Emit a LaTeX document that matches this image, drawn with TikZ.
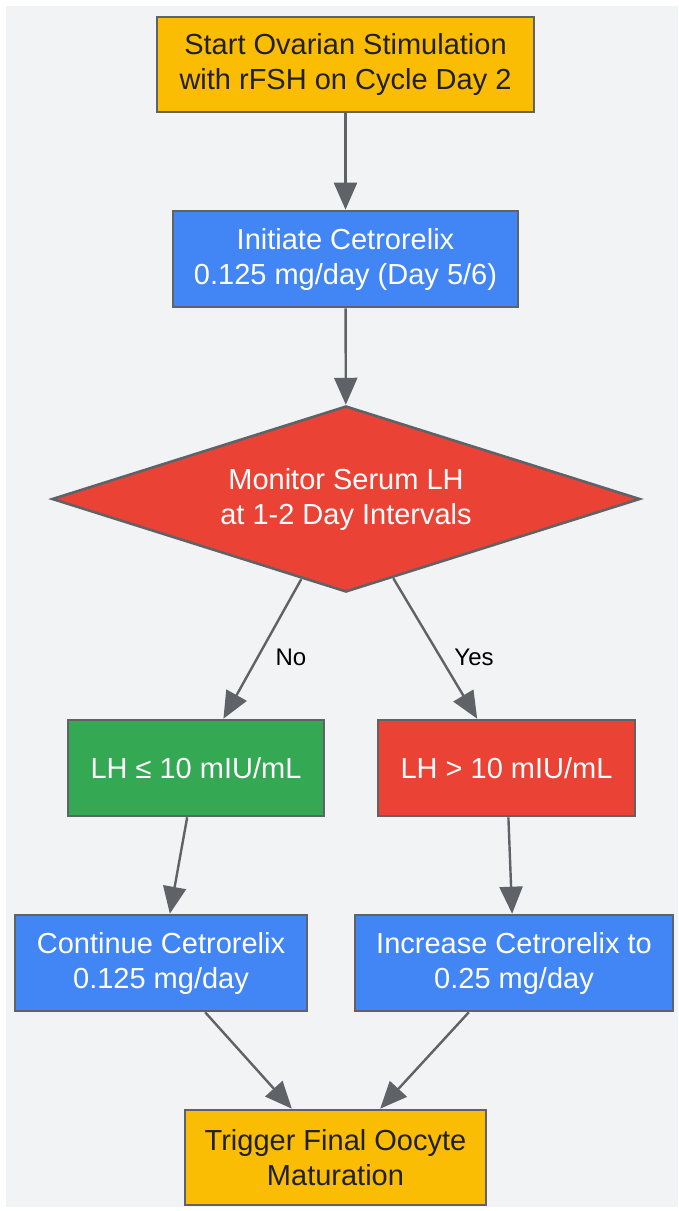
\documentclass[tikz,border=0pt]{standalone}
\usepackage{fontspec}
\setmainfont{Liberation Sans}
\usepackage{tikz}
\usetikzlibrary{shapes.geometric,arrows.meta}

\definecolor{bgGrey}{HTML}{F1F3F5}
\definecolor{edgeGrey}{HTML}{5F6368}
\definecolor{gYellow}{HTML}{FBBC04}
\definecolor{gBlue}{HTML}{4285F4}
\definecolor{gRed}{HTML}{EA4335}
\definecolor{gGreen}{HTML}{34A853}
\definecolor{darkText}{HTML}{202124}

\begin{document}
\begin{tikzpicture}[x=1pt,y=-1pt,
    stepbox/.style={draw=edgeGrey,line width=2.6pt,inner sep=0pt,align=center,
      font=\fontsize{29}{35}\selectfont},
    decision/.style={diamond,aspect=3.16,draw=edgeGrey,line width=2.6pt,inner sep=0pt,
      align=center,minimum width=588pt,minimum height=186pt,fill=gRed,text=white,
      font=\fontsize{29}{35}\selectfont},
    flow/.style={draw=edgeGrey,line width=2.4pt,-{Triangle[length=27pt,width=23pt]}},
    answer/.style={font=\fontsize{24}{28}\selectfont,text=black}]
  \useasboundingbox (0,0) rectangle (678,1211);
  \fill[bgGrey] (6,6) rectangle (678,1207);

  \node[stepbox,fill=gYellow,text=darkText,minimum width=377pt,minimum height=95pt]
    (start) at (345.5,64.5) {Start Ovarian Stimulation\\with rFSH on Cycle Day 2};
  \node[stepbox,fill=gBlue,text=white,minimum width=345pt,minimum height=96pt]
    (initiate) at (345.5,259) {Initiate Cetrorelix\\0.125 mg/day (Day 5/6)};
  \node[decision] (monitor) at (346,499) {Monitor Serum LH\\at 1-2 Day Intervals};
  \node[stepbox,fill=gGreen,text=white,minimum width=256pt,minimum height=96pt]
    (lhlow) at (196,768) {LH ≤ 10 mIU/mL};
  \node[stepbox,fill=gRed,text=white,minimum width=257pt,minimum height=96pt]
    (lhhigh) at (506.5,768) {LH > 10 mIU/mL};
  \node[stepbox,fill=gBlue,text=white,minimum width=292pt,minimum height=96pt]
    (continue) at (161,963) {Continue Cetrorelix\\0.125 mg/day};
  \node[stepbox,fill=gBlue,text=white,minimum width=318pt,minimum height=96pt]
    (increase) at (514,963) {Increase Cetrorelix to\\0.25 mg/day};
  \node[stepbox,fill=gYellow,text=darkText,minimum width=301pt,minimum height=95pt]
    (trigger) at (335.5,1157.5) {Trigger Final Oocyte\\Maturation};

  \draw[flow] (start) -- (initiate);
  \draw[flow] (initiate) -- (monitor);
  \draw[flow] (monitor) -- (lhlow);
  \draw[flow] (monitor) -- (lhhigh);
  \draw[flow] (lhlow) -- (continue);
  \draw[flow] (lhhigh) -- (increase);
  \draw[flow] (continue) -- (trigger);
  \draw[flow] (increase) -- (trigger);

  \node[answer] (no) at (291,657) {No};
  \node[answer] (yes) at (474,657) {Yes};
\end{tikzpicture}
\end{document}
